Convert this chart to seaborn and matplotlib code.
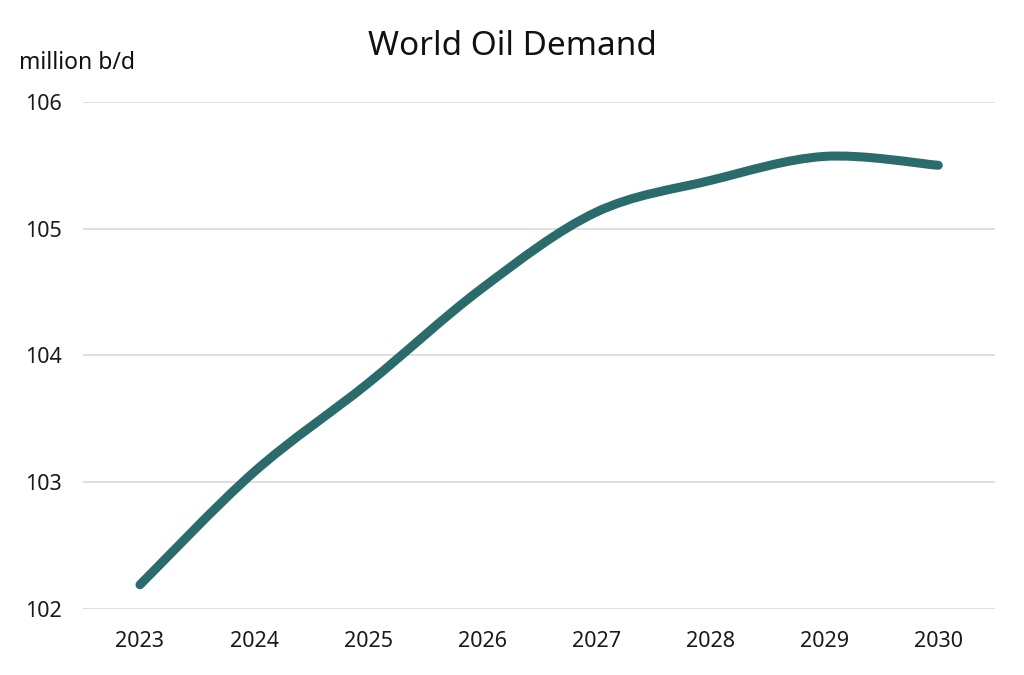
import numpy as np
import matplotlib
matplotlib.use("Agg")
import matplotlib.pyplot as plt
import seaborn as sns
from matplotlib.path import Path
from matplotlib.patches import PathPatch

# data (million b/d)
years = [2023, 2024, 2025, 2026, 2027, 2028, 2029, 2030]
demand = [102.19, 103.08, 103.78, 104.53, 105.13, 105.38, 105.57, 105.50]
y_ticks = [102, 103, 104, 105, 106]

line_color = "#2a6b6b"

sns.set_theme(style="white")
plt.rcParams["font.family"] = ["Noto Sans", "DejaVu Sans"]

fig = plt.figure(figsize=(10.24, 6.75), dpi=100)
ax = fig.add_axes([0.081, 0.098, 0.891, 0.751])

# smoothed line (Catmull-Rom -> cubic bezier, like Excel's smoothed lines)
pts = np.column_stack([years, demand]).astype(float)
ext = np.vstack([pts[0], pts, pts[-1]])
verts = [tuple(pts[0])]
codes = [Path.MOVETO]
for i in range(1, len(ext) - 2):
    p0, p1, p2, p3 = ext[i - 1], ext[i], ext[i + 1], ext[i + 2]
    c1 = p1 + (p2 - p0) / 6
    c2 = p2 - (p3 - p1) / 6
    verts += [tuple(c1), tuple(c2), tuple(p2)]
    codes += [Path.CURVE4] * 3
patch = PathPatch(Path(verts, codes), facecolor="none", edgecolor=line_color,
                  lw=6.5, capstyle="round", joinstyle="round", zorder=3)
ax.add_patch(patch)

ax.set_xlim(2022.5, 2030.5)
ax.set_ylim(102, 106)
ax.set_xticks(years)
ax.set_yticks(y_ticks)
ax.yaxis.grid(True, color="#d9d9d9", lw=1.2)
ax.xaxis.grid(False)
sns.despine(ax=ax, left=True, bottom=True)
ax.tick_params(axis="both", length=0, labelsize=15.5, colors="#1a1a1a")
ax.tick_params(axis="y", pad=15)
ax.tick_params(axis="x", pad=16)

fig.text(0.5, 0.931, "World Oil Demand", ha="center", va="center", fontsize=24, color="#111111")
fig.text(0.019, 0.907, "million b/d", ha="left", va="center", fontsize=16.5, color="#111111")

fig.savefig("out.png", dpi=100, facecolor="white")
